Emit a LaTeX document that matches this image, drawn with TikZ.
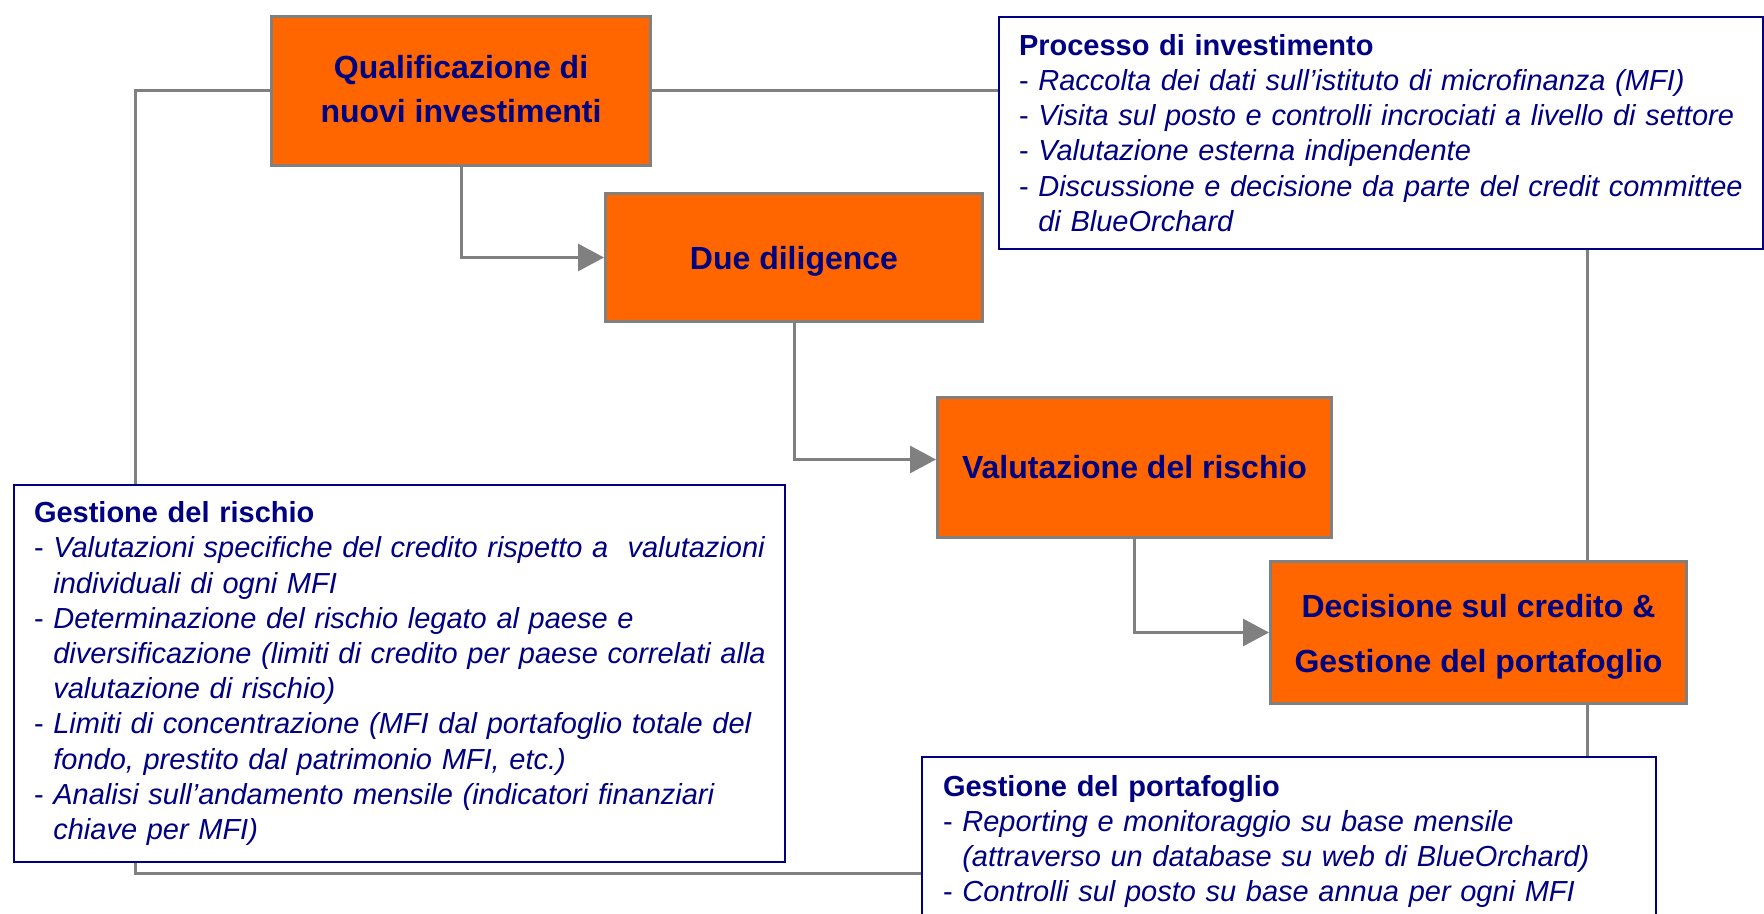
\documentclass[tikz,border=0pt]{standalone}
\usepackage{fontspec}
\setmainfont{Liberation Sans}
\usetikzlibrary{arrows.meta}

\definecolor{stagefill}{HTML}{FF6600}
\definecolor{linegray}{HTML}{808080}
\definecolor{navytext}{HTML}{000080}

\newcommand{\dashgap}{\phantom{- }}
\newcommand{\dashline}[1]{\mbox{- \textit{#1}}}
\newcommand{\moreline}[1]{\mbox{\dashgap\textit{#1}}}
\newcommand{\nudge}[2]{\raisebox{#1}[\height][\depth]{#2}}

\tikzset{
  stage/.style={draw=linegray, fill=stagefill, text=navytext, line width=1.5pt,
    font=\bfseries\fontsize{16}{22}\selectfont, align=center, inner sep=0pt, anchor=north west},
  note/.style={draw=navytext, fill=white, text=navytext, line width=1pt,
    font=\fontsize{14.5}{17.6}\selectfont, align=left, anchor=north west, inner xsep=10pt},
  elbow/.style={to path={|- (\tikztotarget)}},
  across/.style={to path={-| (\tikztotarget)}}
}

\begin{document}
\begin{tikzpicture}[x=0.5pt, y=-0.5pt, >={Triangle[length=13pt, width=13.5pt]}]
            \useasboundingbox (0,0) rectangle (1764,914);
            \clip (0,0) rectangle (1764,914);

            \node[stage, minimum width=189.5pt, minimum height=74.5pt] (0) at (270,15) {\nudge{1pt}{Qualificazione di}\\\nudge{1pt}{nuovi investimenti}};
            \node[stage, minimum width=188.5pt, minimum height=64pt] (1) at (604,192) {\nudge{-1.7pt}{Due diligence}};
            \node[stage, minimum width=197pt, minimum height=70pt] (2) at (936,396) {Valutazione del rischio};
            \node[stage, minimum width=208pt, minimum height=71pt, font=\bfseries\fontsize{16}{27.5}\selectfont] (3) at (1269,560) {\nudge{-2.2pt}{Decisione sul credito \&}\\\nudge{-2.2pt}{Gestione del portafoglio}};

            \node[note, text width=362pt, minimum height=116pt] (inv) at (998,16) {%
              \textbf{Processo di investimento}\\
              \dashline{Raccolta dei dati sull’istituto di microfinanza (MFI)}\\
              \dashline{Visita sul posto e controlli incrociati a livello di settore}\\
              \dashline{Valutazione esterna indipendente}\\
              \dashline{Discussione e decisione da parte del credit committee}\\
              \moreline{di BlueOrchard}};
            \node[note, text width=365.5pt, minimum height=188.5pt] (risk) at (13,484) {%
              \textbf{Gestione del rischio}\\
              \dashline{Valutazioni specifiche del credito rispetto a\ \ valutazioni}\\
              \moreline{individuali di ogni MFI}\\
              \dashline{Determinazione del rischio legato al paese e}\\
              \moreline{diversificazione (limiti di credito per paese correlati alla}\\
              \moreline{valutazione di rischio)}\\
              \dashline{Limiti di concentrazione (MFI dal portafoglio totale del}\\
              \moreline{fondo, prestito dal patrimonio MFI, etc.)}\\
              \dashline{Analisi sull’andamento mensile (indicatori finanziari}\\
              \moreline{chiave per MFI)}};
            \node[note, text width=346pt, inner xsep=10.5pt, inner ysep=9pt] (port) at (921,756) {%
              \textbf{Gestione del portafoglio}\\
              \dashline{Reporting e monitoraggio su base mensile}\\
              \moreline{(attraverso un database su web di BlueOrchard)}\\
              \dashline{Controlli sul posto su base annua per ogni MFI}};

            \coordinate (lx) at (135,0);
            \coordinate (rx) at (1587,0);
            \coordinate (ly) at (0,873);

            \path[color=linegray, draw, line width=1.5pt]
              (0.south) edge [elbow, ->] (1)
              (1.south) edge [elbow, ->] ([yshift=4pt]2.west)
              (2.south) edge [elbow, ->] (3)
              (0.west) edge [across] (lx |- risk.north)
              (lx |- risk.south) edge [elbow] (port.west |- ly)
              (0.east) edge (inv.west |- 0.east)
              (rx |- inv.south) edge (rx |- 3.north)
              (rx |- 3.south) edge (rx |- port.north)
            ;
          \end{tikzpicture}
\end{document}
